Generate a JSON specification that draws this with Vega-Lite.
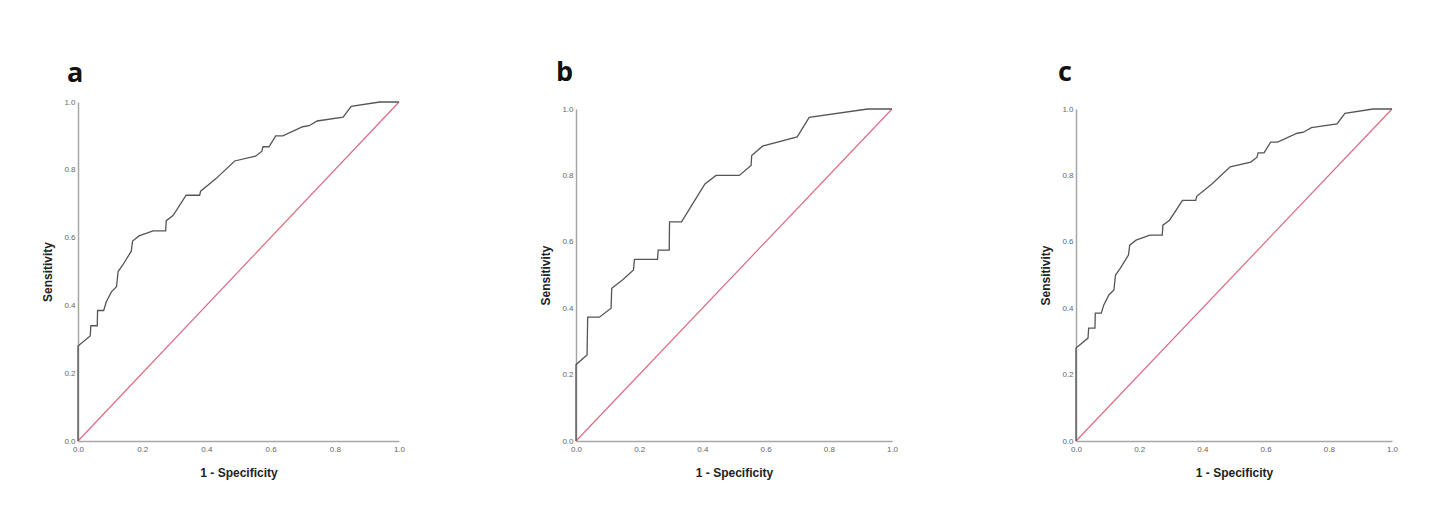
{
  "$schema": "https://vega.github.io/schema/vega-lite/v6.json",
  "padding": {"left": 41, "top": 59, "right": 5, "bottom": 5},
  "background": "white",
  "datasets": {
    "diag": [{"x": 0, "y": 0}, {"x": 1, "y": 1}],
    "rocA": [
      {"x": 0, "y": 0}, {"x": 0, "y": 0.28}, {"x": 0.038, "y": 0.31}, {"x": 0.04, "y": 0.34}, {"x": 0.06, "y": 0.34},
      {"x": 0.061, "y": 0.385}, {"x": 0.08, "y": 0.385}, {"x": 0.088, "y": 0.41}, {"x": 0.104, "y": 0.44}, {"x": 0.12, "y": 0.455},
      {"x": 0.125, "y": 0.5}, {"x": 0.14, "y": 0.52}, {"x": 0.166, "y": 0.56}, {"x": 0.17, "y": 0.59}, {"x": 0.19, "y": 0.605},
      {"x": 0.234, "y": 0.62}, {"x": 0.273, "y": 0.62}, {"x": 0.275, "y": 0.65}, {"x": 0.296, "y": 0.665}, {"x": 0.337, "y": 0.725},
      {"x": 0.379, "y": 0.725}, {"x": 0.382, "y": 0.737}, {"x": 0.43, "y": 0.774}, {"x": 0.488, "y": 0.826}, {"x": 0.553, "y": 0.84},
      {"x": 0.573, "y": 0.855}, {"x": 0.576, "y": 0.868}, {"x": 0.595, "y": 0.868}, {"x": 0.616, "y": 0.9}, {"x": 0.638, "y": 0.9},
      {"x": 0.7, "y": 0.927}, {"x": 0.72, "y": 0.93}, {"x": 0.745, "y": 0.944}, {"x": 0.826, "y": 0.955}, {"x": 0.851, "y": 0.987},
      {"x": 0.94, "y": 1.0}, {"x": 1, "y": 1}
    ],
    "rocB": [
      {"x": 0, "y": 0}, {"x": 0, "y": 0.23}, {"x": 0.035, "y": 0.259}, {"x": 0.037, "y": 0.373}, {"x": 0.074, "y": 0.373},
      {"x": 0.111, "y": 0.4}, {"x": 0.113, "y": 0.46}, {"x": 0.148, "y": 0.486}, {"x": 0.182, "y": 0.515}, {"x": 0.185, "y": 0.547},
      {"x": 0.258, "y": 0.547}, {"x": 0.26, "y": 0.575}, {"x": 0.295, "y": 0.575}, {"x": 0.296, "y": 0.66}, {"x": 0.334, "y": 0.66},
      {"x": 0.408, "y": 0.774}, {"x": 0.443, "y": 0.8}, {"x": 0.517, "y": 0.8}, {"x": 0.554, "y": 0.83}, {"x": 0.556, "y": 0.86},
      {"x": 0.59, "y": 0.888}, {"x": 0.7, "y": 0.916}, {"x": 0.738, "y": 0.975}, {"x": 0.923, "y": 1.0}, {"x": 1, "y": 1}
    ]
  },
  "hconcat": [
    {
      "width": 321, "height": 339,
      "title": {"text": "a", "dx": -11, "offset": 10},
      "layer": [
        {"data": {"name": "diag"}, "mark": {"type": "line", "color": "#dc6b82", "strokeWidth": 1.2},
         "encoding": {
           "x": {"field": "x", "type": "quantitative", "scale": {"domain": [0, 1], "nice": false}, "axis": {"title": "1 - Specificity", "values": [0, 0.2, 0.4, 0.6, 0.8, 1], "format": ".1f"}},
           "y": {"field": "y", "type": "quantitative", "scale": {"domain": [0, 1], "nice": false}, "axis": {"title": "Sensitivity", "values": [0, 0.2, 0.4, 0.6, 0.8, 1], "format": ".1f"}}
         }},
        {"data": {"name": "rocA"}, "mark": {"type": "line", "color": "#555555", "strokeWidth": 1.3},
         "encoding": {
           "x": {"field": "x", "type": "quantitative"},
           "y": {"field": "y", "type": "quantitative"},
           "order": {"value": null}
         }}
      ]
    },
    {
      "spacing": 141,
      "hconcat": [
        {
          "width": 316, "height": 339,
          "title": {"text": "b", "dx": -20, "offset": 15},
          "layer": [
            {"data": {"name": "diag"}, "mark": {"type": "line", "color": "#dc6b82", "strokeWidth": 1.2},
             "encoding": {
               "x": {"field": "x", "type": "quantitative", "scale": {"domain": [0, 1], "nice": false}, "axis": {"title": "1 - Specificity", "values": [0, 0.2, 0.4, 0.6, 0.8, 1], "format": ".1f"}},
               "y": {"field": "y", "type": "quantitative", "scale": {"domain": [0, 1], "nice": false, "range": [339, 7]}, "axis": {"title": "Sensitivity", "values": [0, 0.2, 0.4, 0.6, 0.8, 1], "format": ".1f"}}
             }},
            {"data": {"name": "rocB"}, "mark": {"type": "line", "color": "#555555", "strokeWidth": 1.3},
             "encoding": {
               "x": {"field": "x", "type": "quantitative"},
               "y": {"field": "y", "type": "quantitative"},
               "order": {"value": null}
             }}
          ]
        },
        {
          "width": 316, "height": 339,
          "title": {"text": "c", "dx": -18, "offset": 15},
          "layer": [
            {"data": {"name": "diag"}, "mark": {"type": "line", "color": "#dc6b82", "strokeWidth": 1.2},
             "encoding": {
               "x": {"field": "x", "type": "quantitative", "scale": {"domain": [0, 1], "nice": false}, "axis": {"title": "1 - Specificity", "values": [0, 0.2, 0.4, 0.6, 0.8, 1], "format": ".1f"}},
               "y": {"field": "y", "type": "quantitative", "scale": {"domain": [0, 1], "nice": false, "range": [339, 7]}, "axis": {"title": "Sensitivity", "values": [0, 0.2, 0.4, 0.6, 0.8, 1], "format": ".1f"}}
             }},
            {"data": {"name": "rocA"}, "mark": {"type": "line", "color": "#555555", "strokeWidth": 1.3},
             "encoding": {
               "x": {"field": "x", "type": "quantitative"},
               "y": {"field": "y", "type": "quantitative"},
               "order": {"value": null}
             }}
          ]
        }
      ]
    }
  ],
  "spacing": 134,
  "config": {
    "view": {"stroke": null},
    "title": {"anchor": "start", "frame": "group", "font": "Open Sans", "fontSize": 27, "fontWeight": "bold", "color": "#111111"},
    "axis": {
      "grid": false, "ticks": false, "domainColor": "#a6a6a6", "domainWidth": 1.5,
      "labelFont": "Liberation Sans", "labelFontSize": 8, "labelColor": "#666666", "labelPadding": 3, "labelFlush": false,
      "titleFont": "Liberation Sans", "titleFontSize": 12, "titleFontWeight": "bold", "titleColor": "#222222"
    },
    "axisX": {"titlePadding": 14, "labelPadding": 4},
    "axisY": {"titlePadding": 9}
  }
}
